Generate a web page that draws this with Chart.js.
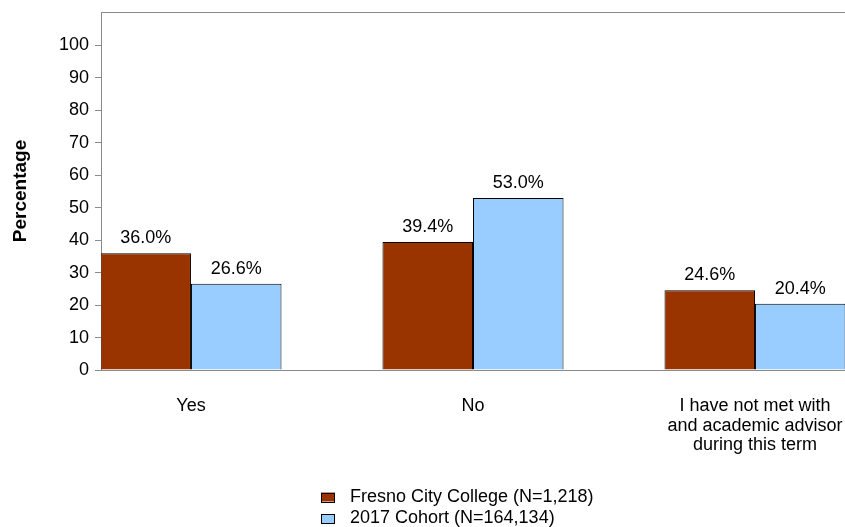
<!DOCTYPE html>
<html>
<head>
<meta charset="utf-8">
<script src="https://cdn.jsdelivr.net/npm/chart.js@4"></script>
<style>
html, body { margin: 0; padding: 0; background: #fff; }
canvas { display: block; }
</style>
</head>
<body>
<canvas id="chart" width="845" height="527"></canvas>
<script>
// Chart data
const categories = ['Yes', 'No', ['I have not met with', 'and academic advisor', 'during this term']];
const fresnoValues = [36.0, 39.4, 24.6];
const cohortValues = [26.6, 53.0, 20.4];
const seriesNames = ['Fresno City College (N=1,218)', '2017 Cohort (N=164,134)'];
const yTicks = [0, 10, 20, 30, 40, 50, 60, 70, 80, 90, 100];

const FONT = '"Liberation Sans", Arial, sans-serif';
const AXIS_GREY = '#8a8a8a';

// Percent labels above each bar
const valueLabels = {
    id: 'valueLabels',
    afterDatasetsDraw(chart) {
        const ctx = chart.ctx;
        ctx.save();
        ctx.font = '18px ' + FONT;
        ctx.fillStyle = '#000';
        ctx.textAlign = 'center';
        ctx.textBaseline = 'alphabetic';
        chart.data.datasets.forEach((ds, i) => {
            chart.getDatasetMeta(i).data.forEach((bar, j) => {
                ctx.fillText(ds.data[j].y.toFixed(1) + '%', bar.x, bar.y - 10);
            });
        });
        ctx.restore();
    }
};

// Top border of the plot area
const topBorder = {
    id: 'topBorder',
    afterDraw(chart) {
        const { ctx, chartArea } = chart;
        ctx.save();
        ctx.strokeStyle = AXIS_GREY;
        ctx.lineWidth = 1;
        ctx.beginPath();
        ctx.moveTo(chartArea.left, chartArea.top + 0.5);
        ctx.lineTo(chartArea.right, chartArea.top + 0.5);
        ctx.stroke();
        ctx.restore();
    }
};

// Legend with items stacked one under the other
const stackedLegend = {
    id: 'stackedLegend',
    afterDraw(chart) {
        const ctx = chart.ctx;
        ctx.save();
        ctx.font = '18px ' + FONT;
        ctx.textBaseline = 'middle';
        ctx.textAlign = 'left';
        chart.data.datasets.forEach((ds, i) => {
            const y = 497 + i * 21.5;
            ctx.fillStyle = ds.backgroundColor;
            ctx.fillRect(321, y - 4.5, 14, 9);
            ctx.strokeStyle = '#000';
            ctx.lineWidth = 1;
            ctx.strokeRect(321.5, Math.round(y - 4.5) + 0.5, 13, 9);
            ctx.fillStyle = '#000';
            ctx.fillText(ds.label, 350, y);
        });
        ctx.restore();
    }
};

const chart = new Chart('chart', {
    type: 'bar',
    data: {
        datasets: [{
            label: seriesNames[0],
            data: fresnoValues.map((v, i) => ({ x: i, y: v })),
            backgroundColor: '#993300',
            borderColor: '#000',
            borderWidth: 1
        }, {
            label: seriesNames[1],
            data: cohortValues.map((v, i) => ({ x: i, y: v })),
            backgroundColor: '#99ccff',
            borderColor: '#000',
            borderWidth: 1
        }]
    },
    options: {
        responsive: false,
        animation: false,
        categoryPercentage: 0.642,
        barPercentage: 1,
        layout: { padding: { top: 12, right: 0, bottom: 0, left: 0 } },
        plugins: {
            legend: { display: false },
            tooltip: { enabled: false }
        },
        scales: {
            x: {
                type: 'linear',
                offset: false,
                bounds: 'data',
                min: -0.319,
                max: 2.319,
                afterBuildTicks: s => { s.ticks = categories.map((c, i) => ({ value: i })); },
                afterFit: s => { s.height = 157; s.paddingLeft = 0; s.paddingRight = 0; },
                grid: { display: false, drawTicks: false, offset: false },
                border: { display: true, color: AXIS_GREY },
                ticks: {
                    padding: 26,
                    color: '#000',
                    font: { family: FONT, size: 18, lineHeight: 1.1 },
                    maxRotation: 0,
                    autoSkip: false,
                    callback: v => categories[v]
                }
            },
            y: {
                min: 0,
                max: 110.3,
                afterBuildTicks: s => { s.ticks = yTicks.map(v => ({ value: v })); },
                afterFit: s => { s.width = 101; s.paddingTop = 0; s.paddingBottom = 0; },
                grid: { drawOnChartArea: false, tickLength: 6, color: AXIS_GREY },
                border: { color: AXIS_GREY },
                ticks: {
                    padding: 6,
                    color: '#000',
                    font: { family: FONT, size: 18 }
                },
                title: {
                    display: true,
                    text: 'Percentage',
                    color: '#000',
                    font: { family: FONT, size: 19, weight: 'bold' },
                    padding: { top: 9, bottom: 0 }
                }
            }
        }
    },
    plugins: [valueLabels, topBorder, stackedLegend]
});
</script>
</body>
</html>
